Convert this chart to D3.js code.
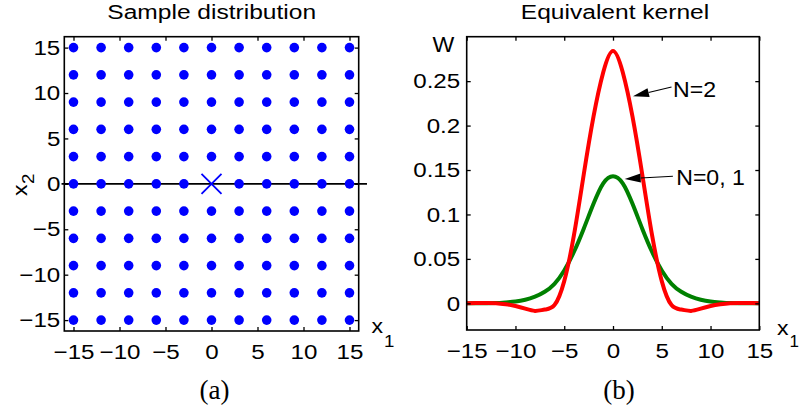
<!DOCTYPE html>
<html><head><meta charset="utf-8">
<script src="https://cdn.jsdelivr.net/npm/d3@7"></script>
<style>body{margin:0;background:#fff}svg{display:block}</style>
</head><body>
<svg id="chart" width="800" height="416"></svg>
<script>
// ---------- data ----------
const gridX1 = [-15,-12,-9,-6,-3,0,3,6,9,12,15];
const gridX2 = [-15,-12,-9,-6,-3,0,3,6,9,12,15];
const queryPoint = [0, 0];
const zeroLineX1 = [-16.3, 16.9];
const ticksA = [-15,-10,-5,0,5,10,15];
const tickLabelsA = ["\u221215","\u221210","\u22125","0","5","10","15"];

const kernelX = [-15,-14,-13,-12,-11,-10,-9,-8,-7,-6,-5,-4,-3,-2,-1,0,1,2,3,4,5,6,7,8,9,10,11,12,13,14,15];
const kernelN01 = [0,0,0.0001,0.0003,0.001,0.002,0.004,0.0075,0.013,0.022,0.037,0.058,0.084,0.112,0.135,0.143,
                   0.135,0.112,0.084,0.058,0.037,0.022,0.013,0.0075,0.004,0.002,0.001,0.0003,0.0001,0,0];
const kernelN2 = [0.0002,0.0003,0.0004,0.0002,-0.001,-0.003,-0.006,-0.0085,-0.007,-0.002,0.025,0.077,0.145,0.210,0.260,0.284,
                  0.260,0.210,0.145,0.077,0.025,-0.002,-0.007,-0.0085,-0.006,-0.003,-0.001,0.0002,0.0004,0.0003,0.0002];
const ticksBx = [-15,-10,-5,0,5,10,15];
const tickLabelsBx = ["\u221215","\u221210","\u22125","0","5","10","15"];
const ticksBy = [0,0.05,0.1,0.15,0.2,0.25];
const tickLabelsBy = ["0","0.05","0.1","0.15","0.2","0.25"];
const annLabels = ["N=2", "N=0, 1"];
const annTip = [[2.05, 0.233], [1.2, 0.140]];
const annTail = [[6.0, 0.2434], [6.14, 0.143]];
const annText = [[6.15, 0.2318], [6.48, 0.1335]];

// ---------- drawing ----------
const svg = d3.select("#chart");
const SANS = "'Liberation Sans', Arial, Helvetica, sans-serif";
const SX = 1.15;

function scaleText(sel, sx) {
  sel.each(function () {
    const t = d3.select(this);
    const x = +t.attr("x") || 0, y = +t.attr("y") || 0;
    t.attr("x", 0).attr("y", 0).attr("transform", `translate(${x},${y}) scale(${sx},1)`);
  });
}

function frame(g, x, y, xt, xl, yt, yl, xpad, ypad) {
  const [x0, x1] = x.range(), [y0, y1] = y.range();
  const bottom = g.append("g").attr("transform", `translate(0,${y0})`)
    .call(d3.axisBottom(x).tickValues(xt).tickFormat((d, i) => xl[i]).tickSize(-4).tickSizeOuter(0).tickPadding(xpad));
  const left = g.append("g").attr("transform", `translate(${x0},0)`)
    .call(d3.axisLeft(y).tickValues(yt).tickFormat((d, i) => yl[i]).tickSize(-4).tickSizeOuter(0).tickPadding(ypad));
  const top = g.append("g").attr("transform", `translate(0,${y1})`)
    .call(d3.axisTop(x).tickValues(xt).tickFormat("").tickSize(-4).tickSizeOuter(0));
  const right = g.append("g").attr("transform", `translate(${x1},0)`)
    .call(d3.axisRight(y).tickValues(yt).tickFormat("").tickSize(-4).tickSizeOuter(0));
  [bottom, left, top, right].forEach(a => {
    a.select(".domain").remove();
    a.selectAll("line").attr("stroke", "#000").attr("stroke-width", 1.3);
    a.attr("font-family", SANS).attr("font-size", 21);
    a.selectAll("text").attr("fill", "#000");
  });
  scaleText(bottom.selectAll("text"), SX);
  scaleText(left.selectAll("text"), SX);
  g.append("rect").attr("x", x0).attr("y", y1).attr("width", x1 - x0).attr("height", y0 - y1)
    .attr("fill", "none").attr("stroke", "#000").attr("stroke-width", 1.6);
}

function label(g, txt, x, y, size, anchor, sx, family) {
  g.append("text").attr("transform", `translate(${x},${y}) scale(${sx},1)`)
    .attr("text-anchor", anchor).attr("font-family", family || SANS).attr("font-size", size)
    .attr("fill", "#000").text(txt);
}

// ----- Panel (a) -----
const xa = d3.scaleLinear().domain([-16, 16]).range([64.3, 358.7]);
const ya = d3.scaleLinear().domain([-16.2, 16.2]).range([331, 36.7]);
const ga = svg.append("g");

ga.append("line").attr("x1", xa(zeroLineX1[0])).attr("x2", xa(zeroLineX1[1]))
  .attr("y1", ya(0)).attr("y2", ya(0)).attr("stroke", "#000").attr("stroke-width", 1.6);

const pts = [];
gridX2.forEach(v2 => gridX1.forEach(v1 => {
  if (!(v1 === queryPoint[0] && v2 === queryPoint[1])) pts.push([v1, v2]);
}));
ga.selectAll("circle.pt").data(pts).join("circle").attr("class", "pt")
  .attr("cx", d => xa(d[0])).attr("cy", d => ya(d[1])).attr("r", 4.8).attr("fill", "#0000ff");

const qx = xa(queryPoint[0]), qy = ya(queryPoint[1]), qs = 10;
ga.append("path").attr("d", `M${qx - qs},${qy - qs}L${qx + qs},${qy + qs}M${qx - qs},${qy + qs}L${qx + qs},${qy - qs}`)
  .attr("stroke", "#0000ff").attr("stroke-width", 1.8).attr("fill", "none");

frame(ga, xa, ya, ticksA, tickLabelsA, ticksA, tickLabelsA, 13, 4);

label(ga, "Sample distribution", 211.7, 18.5, 21, "middle", 1.17);
// axis labels
label(ga, "x", 371.5, 333, 21, "start", 1.1);
label(ga, "1", 384, 347, 17, "start", 1.1);
ga.append("text").attr("transform", "translate(27,196) rotate(-90) scale(1.1,1)")
  .attr("font-family", SANS).attr("font-size", 21).attr("fill", "#000").text("x");
ga.append("text").attr("transform", "translate(33.5,184) rotate(-90) scale(1.1,1)")
  .attr("font-family", SANS).attr("font-size", 17).attr("fill", "#000").text("2");
label(ga, "(a)", 214.5, 399, 27, "middle", 1, "'Liberation Serif', 'Times New Roman', serif");

// ----- Panel (b) -----
const xb = d3.scaleLinear().domain([-15, 15]).range([466.7, 759.3]);
const yb = d3.scaleLinear().domain([-0.03, 0.3]).range([330, 36.7]);
const gb = svg.append("g");

const line = d3.line().x((d, i) => xb(kernelX[i])).y(d => yb(d)).curve(d3.curveNatural);
gb.append("path").attr("d", line(kernelN01)).attr("fill", "none").attr("stroke", "#008000").attr("stroke-width", 4);
gb.append("path").attr("d", line(kernelN2)).attr("fill", "none").attr("stroke", "#ff0000").attr("stroke-width", 4);

frame(gb, xb, yb, ticksBx, tickLabelsBx, ticksBy, tickLabelsBy, 13, 6.5);

label(gb, "Equivalent kernel", 615, 18.5, 21, "middle", 1.17);
label(gb, "W", 443.5, 51.5, 22, "middle", 1.05);
label(gb, "x", 777, 334.5, 21, "start", 1.1);
label(gb, "1", 789.5, 347, 17, "start", 1.0);
label(gb, "(b)", 619, 399, 27, "middle", 1, "'Liberation Serif', 'Times New Roman', serif");

// annotations
annLabels.forEach((t, i) => {
  const tx = xb(annTip[i][0]), ty = yb(annTip[i][1]);
  const sx = xb(annTail[i][0]), sy = yb(annTail[i][1]);
  const ang = Math.atan2(sy - ty, sx - tx);
  const L = 16, Wd = 4.5;
  const bx = tx + L * Math.cos(ang), by = ty + L * Math.sin(ang);
  const px = -Math.sin(ang) * Wd, py = Math.cos(ang) * Wd;
  gb.append("line").attr("x1", sx).attr("y1", sy).attr("x2", bx).attr("y2", by)
    .attr("stroke", "#000").attr("stroke-width", 1.2);
  gb.append("path").attr("d", `M${tx},${ty}L${bx + px},${by + py}L${bx - px},${by - py}Z`).attr("fill", "#000");
  label(gb, t, xb(annText[i][0]), yb(annText[i][1]), 22, "start", 1.05);
});
</script>
</body></html>
